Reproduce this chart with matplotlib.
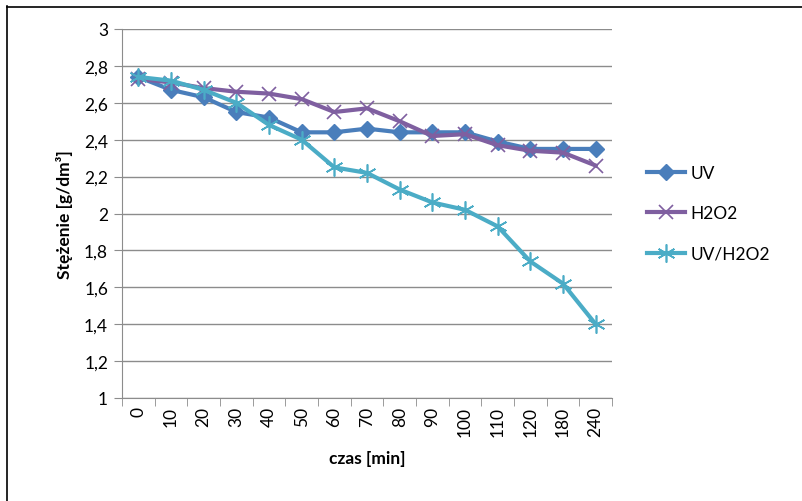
import matplotlib
matplotlib.use("Agg")
import matplotlib.pyplot as plt
from matplotlib.lines import Line2D

categories = ["0", "10", "20", "30", "40", "50", "60", "70", "80", "90", "100", "110", "120", "180", "240"]
uv = [2.74, 2.67, 2.63, 2.55, 2.52, 2.44, 2.44, 2.46, 2.44, 2.44, 2.44, 2.39, 2.35, 2.35, 2.35]
h2o2 = [2.73, 2.71, 2.68, 2.66, 2.65, 2.62, 2.55, 2.57, 2.50, 2.42, 2.43, 2.37, 2.34, 2.33, 2.26]
uv_h2o2 = [2.74, 2.72, 2.67, 2.60, 2.48, 2.40, 2.25, 2.22, 2.13, 2.06, 2.02, 1.93, 1.74, 1.62, 1.40]
yticks = [1, 1.2, 1.4, 1.6, 1.8, 2, 2.2, 2.4, 2.6, 2.8, 3]
ytick_labels = ["1", "1,2", "1,4", "1,6", "1,8", "2", "2,2", "2,4", "2,6", "2,8", "3"]

plt.rcParams['font.family'] = ['Lato', 'DejaVu Sans']

fig = plt.figure(figsize=(8.03, 5.02), dpi=100)
# outer chart border (only top and left visible in the crop)
fig.add_artist(Line2D([7/803, 1.0], [1 - 7.5/502, 1 - 7.5/502], transform=fig.transFigure,
                      color='black', lw=1.2))
fig.add_artist(Line2D([7.5/803, 7.5/803], [0.0, 1 - 7/502], transform=fig.transFigure,
                      color='black', lw=1.2))
ax = fig.add_axes([122/803, 1 - 399/502, 490/803, 369/502])

x = list(range(len(categories)))
ax.plot(x, uv, color='#4A7EBB', lw=3, marker='D', ms=8, label='UV', zorder=3)
ax.plot(x, h2o2, color='#7F5FA0', lw=3, marker='x', ms=10, mew=1.2, label='H2O2', zorder=4)
ax.plot(x, uv_h2o2, color='#4BACC6', lw=3, marker=(6, 2, 0), ms=13, mew=1.2, label='UV/H2O2', zorder=5)

ax.set_xlim(-0.5, len(categories) - 0.5)
ax.set_ylim(1, 3)
ax.set_yticks(yticks)
ax.set_yticklabels(ytick_labels, fontsize=12.5)
ax.set_xticks(x)
ax.set_xticklabels(categories, rotation=90, fontsize=12.5)
ax.tick_params(axis='x', length=0, pad=6)
ax.set_xticks([i - 0.5 for i in range(len(categories) + 1)], minor=True)
ax.tick_params(axis='x', which='minor', length=6, color='#8C8C8C', direction='out')
ax.tick_params(axis='y', length=6, color='#8C8C8C', direction='out', pad=4)
ax.grid(axis='y', color='#8C8C8C', lw=1)
ax.set_axisbelow(True)
for s in ['top', 'right']:
    ax.spines[s].set_visible(False)
for s in ['left', 'bottom']:
    ax.spines[s].set_color('#8C8C8C')

ax.set_ylabel('Stężenie [g/dm³]', fontsize=12.5, fontweight='bold', labelpad=8)
ax.set_xlabel('czas [min]', fontsize=12.5, fontweight='bold', labelpad=10)

ax.legend(loc='center left', bbox_to_anchor=(1.04, 0.5), frameon=False, fontsize=12.5,
          handlelength=2.2, labelspacing=1.4, handletextpad=0.3)

fig.savefig('out.png', dpi=100)
